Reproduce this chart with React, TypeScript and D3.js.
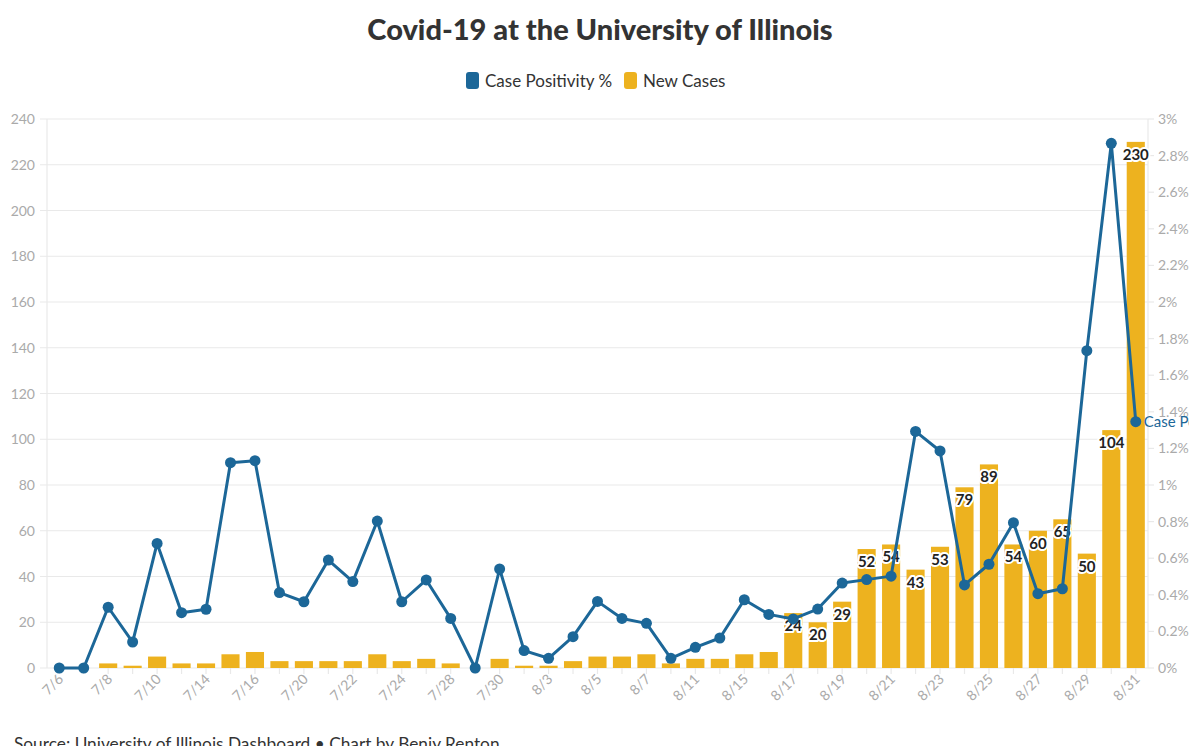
import React from "react";
import * as d3 from "d3";

const dates = [
  "7/6","7/7","7/8","7/9","7/10","7/13","7/14","7/15","7/16","7/17",
  "7/20","7/21","7/22","7/23","7/24","7/27","7/28","7/29","7/30","7/31",
  "8/3","8/4","8/5","8/6","8/7","8/10","8/11","8/13","8/15","8/16",
  "8/17","8/18","8/19","8/20","8/21","8/22","8/23","8/24","8/25","8/26",
  "8/27","8/28","8/29","8/30","8/31"
];
const newCases = [
  0,0,2,1,5,2,2,6,7,3,
  3,3,3,6,3,4,2,0,4,1,
  1,3,5,5,6,2,4,4,6,7,
  24,20,29,52,54,43,53,79,89,54,
  60,65,50,104,230
];
const positivity = [
  0,0,0.332,0.142,0.681,0.302,0.321,1.122,1.133,0.412,
  0.362,0.59,0.472,0.803,0.362,0.481,0.271,0,0.541,0.095,
  0.053,0.171,0.364,0.271,0.244,0.053,0.113,0.164,0.373,0.293,
  0.268,0.322,0.464,0.483,0.502,1.293,1.186,0.454,0.567,0.794,
  0.406,0.433,1.734,2.867,1.346
];
const leftTicks = [0,20,40,60,80,100,120,140,160,180,200,220,240];
const rightTicks = [0,0.2,0.4,0.6,0.8,1,1.2,1.4,1.6,1.8,2,2.2,2.4,2.6,2.8,3];

const FONT = "Lato, 'Open Sans', sans-serif";
const BLUE = "#1c6798";
const GOLD = "#edb21f";
const AXIS = "#aaaaaa";
const GRID = "#e9e9e9";

export default function App() {
  const W = 1200, H = 746;
  const left = 47, right = 1148, top = 119, bottom = 668;
  const x = d3.scaleBand<string>().domain(dates).range([left, right]).paddingInner(0.26).paddingOuter(0.13);
  const yL = d3.scaleLinear().domain([0, 240]).range([bottom, top]);
  const yR = d3.scaleLinear().domain([0, 3]).range([bottom, top]);
  const cx = (d: string) => (x(d) as number) + x.bandwidth() / 2;
  const line = d3.line<number>().x((_, i) => cx(dates[i])).y((v) => yR(v));
  const fmtPct = (v: number) => `${d3.format("~g")(v)}%`;
  const lastI = dates.length - 1;

  return (
    <svg width={W} height={H} style={{ position: "absolute", left: 0, top: 0, background: "#fff" }} fontFamily={FONT}>
      <defs>
        <clipPath id="clipAll"><rect x={0} y={0} width={1189} height={H} /></clipPath>
      </defs>
      <g clipPath="url(#clipAll)">
        <text x={600} y={40} textAnchor="middle" fontSize={29} fontWeight={900} fill="#333">Covid-19 at the University of Illinois</text>
        {/* legend */}
        <rect x={466} y={72} width={13} height={17} rx={3} fill={BLUE} />
        <text x={485} y={87} fontSize={17} fill="#333">Case Positivity %</text>
        <rect x={624} y={72} width={13} height={17} rx={3} fill={GOLD} />
        <text x={643} y={87} fontSize={17} fill="#333">New Cases</text>

        {/* grid + left axis */}
        {leftTicks.map((t) => (
          <g key={"l" + t}>
            <line x1={40} x2={right} y1={yL(t)} y2={yL(t)} stroke={GRID} strokeWidth={1.2} />
            <text x={35} y={yL(t) + 5} textAnchor="end" fontSize={14} fill={AXIS}>{t}</text>
          </g>
        ))}
        <line x1={left} x2={left} y1={top} y2={bottom} stroke={GRID} strokeWidth={1.2} />
        {/* right axis */}
        <line x1={right} x2={right} y1={top} y2={bottom} stroke={GRID} strokeWidth={1.2} />
        {rightTicks.map((t) => (
          <g key={"r" + t}>
            <line x1={right} x2={right + 6} y1={yR(t)} y2={yR(t)} stroke={GRID} strokeWidth={1.2} />
            <text x={1158} y={yR(t) + 5} fontSize={14} fill={AXIS}>{fmtPct(t)}</text>
          </g>
        ))}

        {/* x axis ticks */}
        {dates.map((d, i) => (
          <g key={"x" + d}>
            <line x1={cx(d)} x2={cx(d)} y1={bottom} y2={bottom + 6} stroke={GRID} strokeWidth={1.2} />
            {i % 2 === 0 && (
              <text transform={`translate(${cx(d) + 5},${bottom + 12}) rotate(-45)`} textAnchor="end" fontSize={14} fill={AXIS}>{d}</text>
            )}
          </g>
        ))}

        {/* bars */}
        {dates.map((d, i) => (
          <rect key={"b" + d} x={x(d)} y={yL(newCases[i])} width={x.bandwidth()} height={bottom - yL(newCases[i])} fill={GOLD} />
        ))}
        {/* bar labels */}
        {dates.map((d, i) => newCases[i] >= 20 ? (
          <text key={"bl" + d} x={cx(d)} y={yL(newCases[i]) + 18} textAnchor="middle" fontSize={15} fontWeight={700}
            fill="#222" stroke="#fff" strokeWidth={4} strokeLinejoin="round" style={{ paintOrder: "stroke" }}>{newCases[i]}</text>
        ) : null)}

        {/* line */}
        <path d={line(positivity) || ""} fill="none" stroke={BLUE} strokeWidth={3} strokeLinejoin="round" />
        {positivity.map((v, i) => (
          <circle key={"c" + i} cx={cx(dates[i])} cy={yR(v)} r={5.5} fill={BLUE} />
        ))}
        <text x={cx(dates[lastI]) + 8} y={yR(positivity[lastI]) + 5} fontSize={15} fill={BLUE}>Case Positivity %</text>

        <text x={14} y={750} fontSize={17.3} fill="#333">Source: University of Illinois Dashboard • Chart by Benjy Renton</text>
      </g>
    </svg>
  );
}
